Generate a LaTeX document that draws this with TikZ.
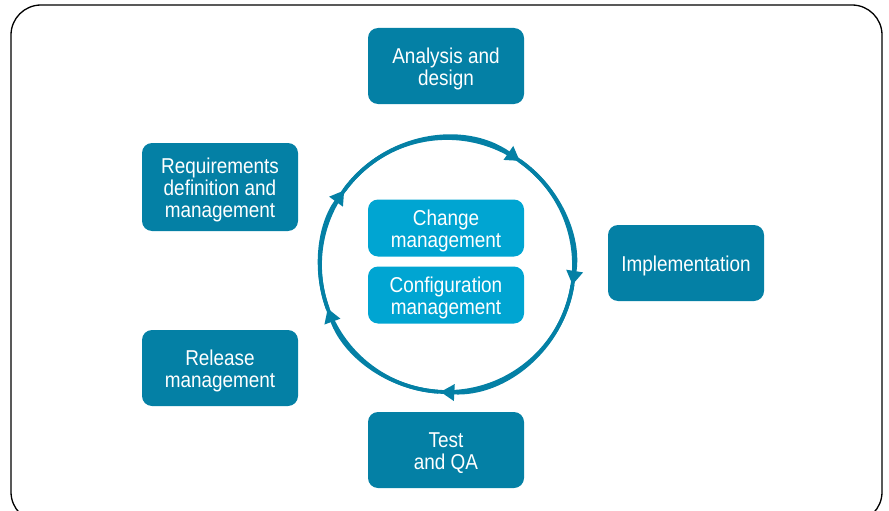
\documentclass[tikz,border=0pt]{standalone}
\usepackage{fontspec}
\setmainfont{Liberation Sans}[FakeStretch=0.88]
\usetikzlibrary{arrows.meta}
\definecolor{phasecol}{RGB}{4,128,165}
\definecolor{corecol}{RGB}{0,165,210}
\newbox\phasetext
\tikzset{
  phasebox/.style={fill=phasecol,text=white,rounded corners=10pt,align=center,
    minimum width=156pt,minimum height=76pt,inner sep=0pt,
    % sit the lines a little lower in the box
    execute at begin node={\setbox\phasetext=\hbox\bgroup},
    execute at end node={\egroup\ht\phasetext=\dimexpr\ht\phasetext+5.5pt\relax\box\phasetext}},
  corebox/.style={phasebox,fill=corecol,minimum height=57pt},
  cycle/.style={draw=phasecol,line width=3.8pt},
  cyclearrow/.style={cycle,-{Triangle[length=14pt,width=16pt]}}
}
\begin{document}
\begin{tikzpicture}[x=1pt,y=-1pt,line join=round,font=\fontsize{21.5}{22}\selectfont]
	\useasboundingbox (0,0) rectangle (889,511);
	\draw[line width=1.3pt,rounded corners=30pt] (11,5) rectangle (882,522);
	\path (447,265) coordinate (hub);
	% the loop around the core (y points down, so angles run the other way)
	\draw[cycle] (hub) circle[radius=127];
	\foreach \a/\b in {-200/-144,-144/-55,-55/9,9/93,-266/-200}
	\draw[cyclearrow] (hub) ++(\a:127) arc[start angle=\a,end angle=\b,radius=127];
	\node[phasebox] (analysis) at (446,66) {Analysis and\\design};
	\node[phasebox,minimum height=88pt] (requirements) at (220,187) {Requirements\\definition and\\management};
	\node[phasebox] (implementation) at (686,263) {Implementation};
	\node[phasebox] (release) at (220,368) {Release\\management};
	\node[phasebox] (test) at (446,450) {Test\\and QA};
	\node[corebox] (change) at (446,228) {Change\\management};
	\node[corebox] (config) at (446,295) {Configuration\\management};
\end{tikzpicture}
\end{document}
